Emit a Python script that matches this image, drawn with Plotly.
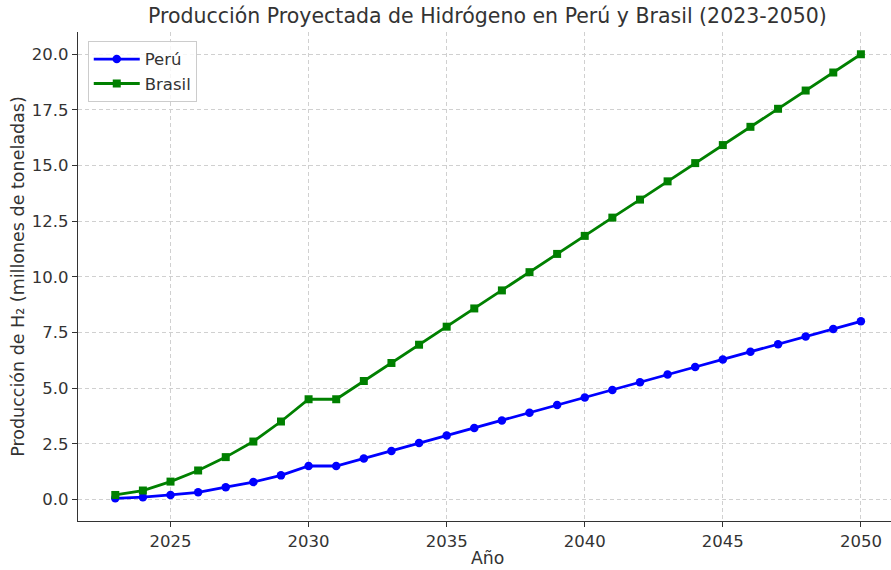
import plotly.graph_objects as go

years = list(range(2023, 2051))
peru = [0.05, 0.1, 0.2, 0.32, 0.55, 0.78, 1.08, 1.5, 1.5, 1.84, 2.18, 2.53, 2.87,
        3.21, 3.55, 3.89, 4.24, 4.58, 4.92, 5.26, 5.61, 5.95, 6.29, 6.63, 6.97,
        7.32, 7.66, 8.0]
brasil = [0.2, 0.4, 0.8, 1.3, 1.9, 2.6, 3.5, 4.5, 4.5, 5.32, 6.13, 6.95, 7.76,
          8.58, 9.39, 10.21, 11.03, 11.84, 12.66, 13.47, 14.29, 15.11, 15.92,
          16.74, 17.55, 18.37, 19.18, 20.0]
yticks = [0.0, 2.5, 5.0, 7.5, 10.0, 12.5, 15.0, 17.5, 20.0]
xticks = [2025, 2030, 2035, 2040, 2045, 2050]

font = "DejaVu Sans"
txt = "#333333"
fig = go.Figure()
fig.add_trace(go.Scatter(x=years, y=peru, name="Perú", mode="lines+markers",
                         line=dict(color="blue", width=2.8),
                         marker=dict(symbol="circle", size=8.5, color="blue")))
fig.add_trace(go.Scatter(x=years, y=brasil, name="Brasil", mode="lines+markers",
                         line=dict(color="green", width=2.8),
                         marker=dict(symbol="square", size=8, color="green")))

fig.update_layout(
    width=891, height=570,
    margin=dict(l=78, r=0, t=32, b=49),
    paper_bgcolor="white", plot_bgcolor="white",
    font=dict(family=font, color=txt, size=16.5),
    showlegend=True,
    legend=dict(x=0.012, y=0.982, xanchor="left", yanchor="top", itemwidth=46,
                tracegroupgap=4,
                bgcolor="rgba(255,255,255,0.8)", bordercolor="#cccccc", borderwidth=1,
                font=dict(size=16.5, color=txt)),
    annotations=[
        dict(text="Producción Proyectada de Hidrógeno en Perú y Brasil (2023-2050)",
             x=0.504, y=1, xref="paper", yref="paper", xanchor="center", yanchor="bottom",
             yshift=2, showarrow=False, font=dict(size=20.5, color=txt)),
        dict(text="Año", x=0.504, y=0, xref="paper", yref="paper", xanchor="center",
             yanchor="top", yshift=-25, showarrow=False, font=dict(size=17.3, color=txt)),
    ],
)
fig.update_xaxes(range=[2021.65, 2051.09], tickvals=xticks, ticks="outside", ticklen=5,
                 tickcolor=txt, showline=True, linecolor=txt, linewidth=1.2,
                 showgrid=True, gridcolor="#d0d0d0", griddash="4px,3px",
                 gridwidth=1, zeroline=False, tickfont=dict(size=16.5), automargin=False)
fig.update_yaxes(range=[-0.97, 21.0], tickvals=yticks, tickformat=".1f", ticks="outside",
                 ticklen=5, tickcolor=txt, showline=True, linecolor=txt,
                 linewidth=1.2, showgrid=True, gridcolor="#d0d0d0", griddash="4px,3px",
                 gridwidth=1, zeroline=False, tickfont=dict(size=16.5), automargin=False,
                 title=dict(text="Producción de H₂ (millones de toneladas)",
                            font=dict(size=17.5, color=txt), standoff=2))
fig.write_html("out.html", config={"displayModeBar": False},
               post_script="document.body.style.margin='0';document.body.style.overflow='hidden';")
